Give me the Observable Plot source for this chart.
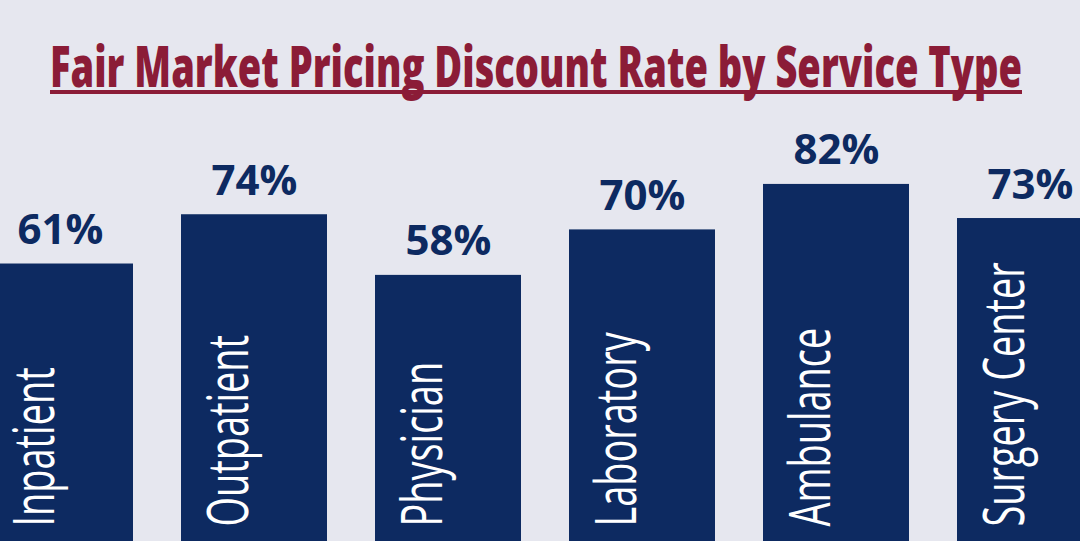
<!DOCTYPE html>
<html><head><meta charset="utf-8">
<script src="https://cdn.jsdelivr.net/npm/d3@7"></script>
<script src="https://cdn.jsdelivr.net/npm/@observablehq/plot@0.6"></script>
<style>
html,body{margin:0;padding:0;background:#e6e7ef;overflow:hidden;width:1080px;height:541px}
#wrap{position:relative;width:1080px;height:541px;overflow:hidden;background:#e6e7ef}
#title{position:absolute;left:50px;top:37px;white-space:nowrap;font-family:"Open Sans",sans-serif;font-weight:800;font-size:57px;line-height:1;color:#8b1c37;transform-origin:0 0;z-index:2}
#uline{position:absolute;left:50px;top:90px;width:972px;height:3.5px;background:#8b1c37;z-index:2}
#chart{position:absolute;left:0;top:0}
</style>
</head><body>
<div id="wrap">
  <div id="title">Fair Market Pricing Discount Rate by Service Type</div>
  <div id="uline"></div>
  <div id="chart"></div>
</div>
<script>
const services = ["Inpatient", "Outpatient", "Physician", "Laboratory", "Ambulance", "Surgery Center"];
const rates = [61, 74, 58, 70, 82, 73];
const rateLabels = ["61%", "74%", "58%", "70%", "82%", "73%"];

const data = services.map((s, i) => ({service: s, rate: rates[i], label: rateLabels[i]}));
const navy = "#0d2a61";

const chart = Plot.plot({
  width: 1080,
  height: 541,
  margin: 0,
  style: {background: "transparent", overflow: "hidden"},
  x: {domain: services, range: [-39, 1128], paddingInner: 0.25, paddingOuter: 0.125, axis: null},
  y: {domain: [0, 100], range: [494.7, 115.7], axis: null},
  marks: [
    Plot.barY(data, {x: "service", y: "rate", fill: navy, insetBottom: -60}),
    Plot.text(data, {x: "service", y: "rate", text: "label", dy: -20, lineAnchor: "bottom",
      fill: navy, fontSize: 42, fontWeight: 700, fontFamily: "Open Sans, sans-serif"}),
    Plot.text(data, {x: "service", text: "service", frameAnchor: "bottom", rotate: -90,
      textAnchor: "start", lineAnchor: "bottom", dx: -7, dy: -15, fill: "white",
      fontSize: 57, fontFamily: "Open Sans, sans-serif", className: "catlabel"})
  ]
});
document.getElementById("chart").appendChild(chart);

// condense the rotated category labels along their reading direction
chart.querySelectorAll(".catlabel text").forEach(el => {
  const tr = el.getAttribute("transform") || "";
  el.setAttribute("transform", tr + " scale(0.665,1)");
});

// fit title width
const t = document.getElementById("title");
const w = t.getBoundingClientRect().width;
t.style.transform = `scaleX(${972 / w})`;
</script>
</body></html>
